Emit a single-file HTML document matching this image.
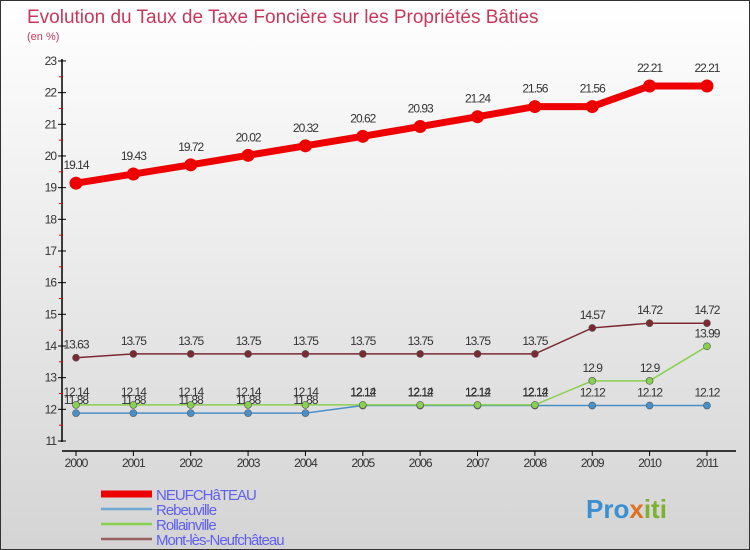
<!DOCTYPE html>
<html><head><meta charset="utf-8"><style>
body{margin:0}
#c{width:750px;height:550px;position:relative;overflow:hidden;background:linear-gradient(#ffffff,#d4d4d4);font-family:"Liberation Sans",sans-serif;box-sizing:border-box;border:1px solid #333}
</style></head><body>
<div id="c">
<svg id="s" width="750" height="550" style="position:absolute;left:0;top:0">
<text x="26" y="22" font-size="19" fill="#c8385a">Evolution du Taux de Taxe Foncière sur les Propriétés Bâties</text>
<text x="26" y="39" font-size="11" fill="#c8385a">(en %)</text>
<text x="585" y="517" font-size="26" font-weight="bold" fill="#3a8fd0">Pro<tspan fill="#e07020">x</tspan><tspan fill="#80b030">iti</tspan></text>
<g id="g"></g>
</svg>
</div>
<script>
const years=[2000,2001,2002,2003,2004,2005,2006,2007,2008,2009,2010,2011];
const yTicks=[11,12,13,14,15,16,17,18,19,20,21,22,23];
const neuf=[19.14,19.43,19.72,20.02,20.32,20.62,20.93,21.24,21.56,21.56,22.21,22.21];
const rebe=[11.88,11.88,11.88,11.88,11.88,12.12,12.12,12.12,12.12,12.12,12.12,12.12];
const roll=[12.14,12.14,12.14,12.14,12.14,12.14,12.14,12.14,12.14,12.9,12.9,13.99];
const mont=[13.63,13.75,13.75,13.75,13.75,13.75,13.75,13.75,13.75,14.57,14.72,14.72];
const names=["NEUFCHâTEAU","Rebeuville","Rollainville","Mont-lès-Neufchâteau"];
const NS="http://www.w3.org/2000/svg";
const g=document.getElementById('g');
const X=i=>75+i*57.36, Y=v=>440-(v-11)*31.67;
function el(t,a,p){const e=document.createElementNS(NS,t);for(const k in a)e.setAttribute(k,a[k]);(p||g).appendChild(e);return e;}
const ya=el('line',{x1:61,y1:58,x2:61,y2:441,stroke:'#000','stroke-width':1.5});


const xa=el('line',{x1:61,y1:450,x2:735,y2:450,stroke:'#000','stroke-width':1.5});


yTicks.forEach(v=>{
 el('line',{x1:57,y1:Y(v),x2:65,y2:Y(v),stroke:'#000'});
 if(v<23){el('line',{x1:58,y1:Y(v+0.5),x2:62,y2:Y(v+0.5),stroke:'#e00'});}
 const t=el('text',{x:55,y:Y(v)+4,'font-size':12,'text-anchor':'end',fill:'#333','letter-spacing':'-1'});
 t.textContent=v;
 
 
});
years.forEach((y,i)=>{
 el('line',{x1:X(i),y1:450,x2:X(i),y2:455,stroke:'#000'});
 const t=el('text',{x:X(i),y:466,'font-size':12,'text-anchor':'middle',fill:'#333','letter-spacing':'-1'});
 t.textContent=y;
 
 
});
function series(d,col,w,r,name,dy){
 const pts=d.map((v,i)=>X(i)+','+Y(v)).join(' ');
 const pl=el('polyline',{points:pts,fill:'none',stroke:col,'stroke-width':w});
 
 
 d.forEach((v,i)=>{
  const c=el('circle',{cx:X(i),cy:Y(v),r:r,fill:col,stroke:r<5?'#555':'none','stroke-width':0.6});
  
  
  const t=el('text',{x:X(i),y:Y(v)+dy,'font-size':12,'text-anchor':'middle',fill:'#333','letter-spacing':'-1'});
  t.textContent=v.toFixed(2).replace(/0$/,'').replace(/\.$/,'');
  
  
 });
}
series(mont,'#7a2a30',1.5,3.5,'mont-les-neufchateau',-9);
series(rebe,'#4a90c8',1.5,3.5,'rebeuville',-9);
series(roll,'#88d050',1.5,3.5,'rollainville',-9);
series(neuf,'#ee0000',7,6.5,'neufchateau',-14);
const lc=['#ee0000','#6fa8d0','#88d050','#9a6060'],lw=[7,2.5,2.5,2.5];
names.forEach((n,i)=>{
 const y=493+i*15;
 const l=el('line',{x1:100,y1:y,x2:151,y2:y,stroke:lc[i],'stroke-width':lw[i]});
 
 
 const t=el('text',{x:155,y:y+6,'font-size':15,fill:'#6060ee','letter-spacing':'-1'});
 t.textContent=n;
 
 
});
</script>
</body></html>
